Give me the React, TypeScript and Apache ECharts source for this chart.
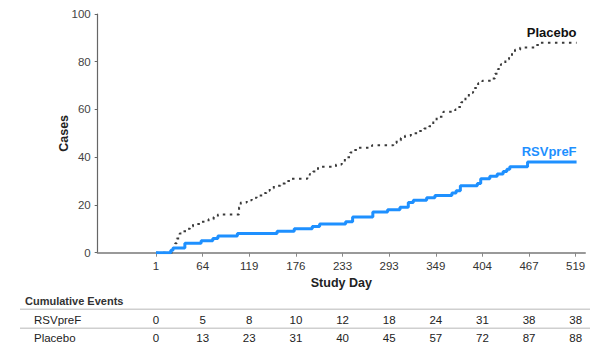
import React, { useEffect, useRef } from "react";
import * as echarts from "echarts";

// Tick labels on the Study Day axis (equally spaced on the plot)
const tickDays = [1, 64, 119, 176, 233, 293, 349, 404, 467, 519];

// RSVpreF cumulative cases (step function: day at which count reaches value)
const rsvDays = [1, 21, 24, 40, 62, 76, 82, 105, 153, 174, 196, 205, 237, 246, 272, 291, 306, 316, 322, 338, 348, 368, 373, 378, 398, 402, 414, 424, 432, 437, 441, 465, 520];
const rsvCases = [0, 1, 2, 4, 5, 6, 7, 8, 9, 10, 11, 12, 13, 15, 17, 18, 19, 21, 22, 23, 24, 25, 26, 28, 29, 31, 32, 33, 34, 35, 36, 38, 38];

// Placebo cumulative cases
const placeboDays = [1, 24, 27, 29, 33, 37, 43, 47, 51, 63, 71, 77, 82, 107, 109, 116, 122, 128, 135, 140, 144, 149, 157, 163, 169, 190, 193, 197, 203, 225, 232, 236, 243, 248, 252, 271, 298, 302, 307, 312, 319, 328, 335, 341, 346, 350, 358, 372, 375, 379, 384, 388, 393, 399, 404, 417, 421, 425, 429, 435, 440, 444, 448, 455, 474, 479, 520];
const placeboCases = [0, 2, 4, 6, 8, 9, 10, 11, 12, 13, 14, 15, 16, 19, 21, 22, 23, 24, 25, 26, 27, 28, 29, 30, 31, 32, 33, 34, 36, 37, 38, 40, 42, 43, 44, 45, 46, 47, 48, 49, 50, 51, 52, 53, 55, 57, 59, 60, 61, 63, 65, 67, 69, 71, 72, 73, 75, 77, 79, 81, 82, 84, 85, 86, 87, 88, 88];

// Cumulative events table
const rsvEvents = [0, 5, 8, 10, 12, 18, 24, 31, 38, 38];
const placeboEvents = [0, 13, 23, 31, 40, 45, 57, 72, 87, 88];

const seriesNames = ["RSVpreF", "Placebo"];

const FONT = "'Liberation Sans', Arial, Helvetica, sans-serif";

function dayToPos(d: number): number {
  const n = tickDays.length;
  let k = 0;
  while (k < n - 2 && d > tickDays[k + 1]) k++;
  return k + (d - tickDays[k]) / (tickDays[k + 1] - tickDays[k]);
}

const tickIdx = tickDays.map((_, i) => i);

export default function App() {
  const ref = useRef<HTMLDivElement>(null);

  useEffect(() => {
    if (!ref.current) return;
    const chart = echarts.init(ref.current, undefined, { renderer: "svg" });

    const rsvData = rsvDays.map((d, i) => [dayToPos(d), rsvCases[i]]);
    const placeboData = placeboDays.map((d, i) => [dayToPos(d), placeboCases[i]]);

    const tableAxis = (offset: number, values: number[]) => ({
      type: "value",
      gridIndex: 0,
      position: "bottom",
      offset,
      min: -1.25,
      max: 9.2,
      axisLine: { show: false, onZero: false },
      axisTick: { show: false },
      splitLine: { show: false },
      axisLabel: {
        customValues: tickIdx,
        formatter: (v: number) => String(values[Math.round(v)]),
        margin: 0,
        fontSize: 11.5,
        color: "#222",
        fontFamily: FONT,
      },
    });

    chart.setOption({
      animation: false,
      textStyle: { fontFamily: FONT },
      grid: { left: 97.7, top: 14, right: 5, bottom: 93.3, containLabel: false },
      xAxis: [
        {
          type: "value",
          min: -1.25,
          max: 9.2,
          name: "Study Day",
          nameLocation: "middle",
          nameGap: 24,
          nameMoveOverlap: false,
          nameTextStyle: { fontSize: 12.5, fontWeight: "bold", color: "#222", fontFamily: FONT },
          axisLine: { show: true, onZero: false, lineStyle: { color: "#999", width: 2 } },
          axisTick: { show: true, customValues: tickIdx, length: 4, lineStyle: { color: "#888", width: 1 } },
          splitLine: { show: false },
          axisLabel: {
            customValues: tickIdx,
            formatter: (v: number) => String(tickDays[Math.round(v)]),
            fontSize: 11.5,
            color: "#333",
            margin: 7,
            fontFamily: FONT,
          },
        },
        tableAxis(61, rsvEvents),
        tableAxis(79, placeboEvents),
      ],
      yAxis: {
        type: "value",
        min: 0,
        max: 100,
        interval: 20,
        name: "Cases",
        nameLocation: "middle",
        nameGap: 27,
        nameMoveOverlap: false,
        nameRotate: 90,
        nameTextStyle: { fontSize: 12.5, fontWeight: "bold", color: "#222", fontFamily: FONT },
        axisLine: { show: true, onZero: false, lineStyle: { color: "#666", width: 1.2 } },
        axisTick: { show: true, length: 3, lineStyle: { color: "#666" } },
        splitLine: { show: false },
        axisLabel: { fontSize: 11.5, color: "#444", margin: 7, fontFamily: FONT },
      },
      series: [
        {
          name: seriesNames[1],
          type: "line",
          step: "end",
          xAxisIndex: 0,
          data: placeboData,
          showSymbol: false,
          lineStyle: { color: "#3a3a3a", width: 2, type: [2.5, 4.5] },
          itemStyle: { color: "#333" },
          endLabel: {
            show: true,
            formatter: "{a}",
            align: "right",
            verticalAlign: "bottom",
            distance: 0,
            offset: [0, -4],
            fontSize: 13,
            fontWeight: "bold",
            color: "#111",
            fontFamily: FONT,
          },
        },
        {
          name: seriesNames[0],
          type: "line",
          step: "end",
          xAxisIndex: 0,
          data: rsvData,
          showSymbol: false,
          lineStyle: { color: "#1e90ff", width: 3 },
          itemStyle: { color: "#1e90ff" },
          endLabel: {
            show: true,
            formatter: "{a}",
            align: "right",
            verticalAlign: "bottom",
            distance: 0,
            offset: [0, -4],
            fontSize: 13,
            fontWeight: "bold",
            color: "#1e90ff",
            fontFamily: FONT,
          },
        },
      ],
      graphic: [
        {
          type: "text",
          left: 25,
          top: 295,
          style: { text: "Cumulative Events", font: `bold 11px ${FONT}`, fill: "#333" },
        },
        {
          type: "line",
          shape: { x1: 20, y1: 309.3, x2: 590, y2: 309.3 },
          style: { stroke: "#cfcfcf", lineWidth: 1.5 },
        },
        {
          type: "line",
          shape: { x1: 20, y1: 328.3, x2: 590, y2: 328.3 },
          style: { stroke: "#cfcfcf", lineWidth: 1.5 },
        },
        {
          type: "text",
          left: 34,
          top: 313.5,
          style: { text: seriesNames[0], font: `11.5px ${FONT}`, fill: "#222" },
        },
        {
          type: "text",
          left: 34,
          top: 331.5,
          style: { text: seriesNames[1], font: `11.5px ${FONT}`, fill: "#222" },
        },
      ],
    });

    return () => chart.dispose();
  }, []);

  return (
    <div
      ref={ref}
      style={{ position: "fixed", left: 0, top: 0, width: 590, height: 346, background: "#fff" }}
    />
  );
}
